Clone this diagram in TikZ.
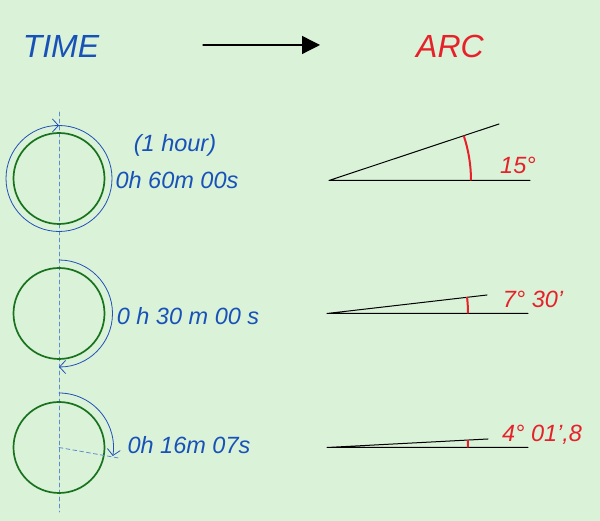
\documentclass[tikz,border=0pt]{standalone}
\usepackage{fontspec}
\setmainfont{Liberation Sans}
\usetikzlibrary{arrows.meta}
\definecolor{bggreen}{RGB}{217,242,216}
\definecolor{timeblue}{RGB}{24,82,185}
\definecolor{sweepblue}{RGB}{35,80,185}
\definecolor{axisblue}{RGB}{95,140,205}
\definecolor{clockgreen}{RGB}{25,115,30}
\definecolor{arcred}{RGB}{232,32,42}
\begin{document}
\begin{tikzpicture}[x=1pt, y=1pt, line cap=round, line join=round, font=\fontsize{23.5}{26}\selectfont\itshape, >={Straight Barb[length=6pt,width=13pt]}]
			\tikzset{time style/.style={text=timeblue}, arc style/.style={text=arcred},
				clock/.style={draw=clockgreen, line width=1.7pt},
				sweep/.style={draw=sweepblue, line width=0.8pt, ->},
				axis/.style={draw=axisblue, line width=0.8pt, dash pattern=on 4pt off 3pt},
				anglemark/.style={draw=arcred, line width=2pt, line cap=butt}}
			\fill[bggreen] (0,0) rectangle (600,521);
			\useasboundingbox (0,0) rectangle (600,521);
			% heading
			\node[time style, font=\fontsize{32}{36}\selectfont\itshape] (time) at (61,474) {TIME};
			\node[arc style, font=\fontsize{32}{36}\selectfont\itshape] (arc) at (450,475) {ARC};
			\coordinate (go) at (203,476);
			\coordinate (to) at (320,476);
			\draw[line width=1.3pt, -{Triangle[length=18pt,width=18pt]}] (go) -- (to);
			% clocks
			\coordinate (c1) at (59,342.5);
			\coordinate (c2) at (59,207.5);
			\coordinate (c3) at (59,73.5);
			\coordinate (axtop) at (59.5,409);
			\coordinate (axbot) at (59.5,9);
			\draw[axis] (axtop) -- (axbot);
			\draw[clock] (c1) circle (45.5);
			\draw[clock] (c2) circle (45.5);
			\draw[clock] (c3) circle (45.5);
			\draw[sweep] (c1) ++(90:53) arc[start angle=90, end angle=-270, radius=53];
			\draw[sweep] (c2) ++(90:53.5) arc[start angle=90, end angle=-90, radius=53.5];
			\draw[sweep] (c3) ++(90:54.5) arc[start angle=90, end angle=-9, radius=54.5];
			\draw[axis] (c3) -- ++(-10:62);
			\node[time style] (hour) at (175,376) {(1 hour)};
			\node[time style] (t1) at (177,340.5) {0h 60m 00s};
			\node[time style] (t2) at (188,205) {0 h 30 m 00 s};
			\node[time style] (t3) at (189,76) {0h 16m 07s};
			% angles
			\coordinate (v1) at (329,340.5); \coordinate (h1) at (530,340.5); \coordinate (u1) at (499,397);
			\coordinate (v2) at (327,207.5); \coordinate (h2) at (528,207.5); \coordinate (u2) at (487,226);
			\coordinate (v3) at (327,73.5); \coordinate (h3) at (528,73.5); \coordinate (u3) at (488,82);
			\draw[line width=1pt] (h1) -- (v1) -- (u1);
			\draw[line width=1pt] (h2) -- (v2) -- (u2);
			\draw[line width=1pt] (h3) -- (v3) -- (u3);
			\draw[anglemark] (v1) ++(0:142) arc[start angle=0, end angle=18.4, radius=142];
			\draw[anglemark] (v2) ++(0:141) arc[start angle=0, end angle=6.7, radius=141];
			\draw[anglemark] (v3) ++(0:141) arc[start angle=0, end angle=3.1, radius=141];
			\node[arc style] (a1) at (518,356) {15°};
			\node[arc style] (a2) at (533,222) {7° 30’};
			\node[arc style] (a3) at (542,86) {4° 01’,8};
	\end{tikzpicture}
\end{document}
